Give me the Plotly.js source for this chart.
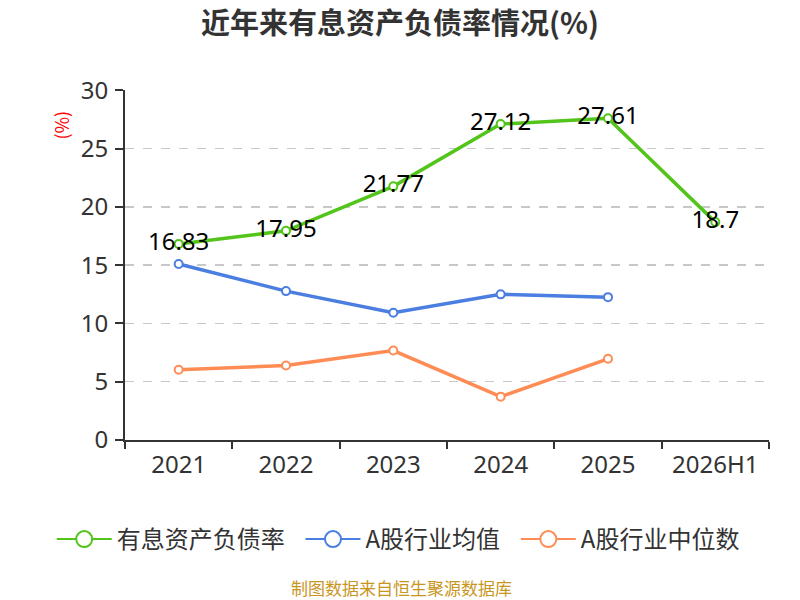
<!DOCTYPE html>
<html>
<head>
<meta charset="utf-8">
<script src="https://cdn.plot.ly/plotly-3.0.1.min.js"></script>
<style>
  body { margin: 0; background: #fff; }
  #chart { width: 800px; height: 600px; }
</style>
</head>
<body>
<div id="chart"></div>
<script>
var years = ["2021", "2022", "2023", "2024", "2025", "2026H1"];
var ratio = [16.83, 17.95, 21.77, 27.12, 27.61, 18.7];
var industryMean = [15.11, 12.78, 10.92, 12.5, 12.26, null];
var industryMedian = [6.03, 6.39, 7.68, 3.72, 6.97, null];
var seriesNames = ["有息资产负债率", "A股行业均值", "A股行业中位数"];
var colors = ["#52c41a", "#4a7ee0", "#ff8c55"];

var cjk = "'Noto Sans CJK SC', 'Noto Sans', sans-serif";
var num = "'Noto Sans', 'Open Sans', sans-serif";

function lineTrace(vals, i, withText) {
    var t = {
        x: years,
        y: vals,
        type: "scatter",
        mode: withText ? "lines+markers+text" : "lines+markers",
        line: {color: colors[i], width: 3.5},
        marker: {size: 8, color: "#fff", line: {color: colors[i], width: 2}},
        showlegend: false,
        hoverinfo: "x+y",
        cliponaxis: false
    };
    if (withText) {
        t.text = vals.map(function(v){ return String(v); });
        t.textposition = "middle center";
        t.textfont = {family: num, size: 24, color: "#000"};
    }
    return t;
}

// legend-only entries so the symbols come out bigger
// (the trailing nbsp's just widen the gap between entries)
function legendTrace(i) {
    return {
        x: [null], y: [null],
        type: "scatter",
        mode: "lines+markers",
        name: seriesNames[i] + "&nbsp;&nbsp;",
        line: {color: colors[i], width: 2},
        marker: {size: 16, color: "#fff", line: {color: colors[i], width: 2}}
    };
}

var data = [
    lineTrace(industryMedian, 2, false),
    lineTrace(industryMean, 1, false),
    lineTrace(ratio, 0, true),
    legendTrace(0), legendTrace(1), legendTrace(2)
];

var layout = {
    width: 800, height: 600,
    margin: {l: 125, r: 31, t: 90, b: 160},
    paper_bgcolor: "#fff",
    plot_bgcolor: "#fff",
    title: {
        text: "<b>近年来有息资产负债率情况(%)</b>",
        font: {family: cjk, size: 29, color: "#333"},
        x: 0.5, xanchor: "center", y: 0.96, yanchor: "middle"
    },
    xaxis: {
        type: "category",
        range: [-0.5, 5.5],
        tickson: "boundaries",
        ticks: "outside", ticklen: 7, tickwidth: 2, tickcolor: "#333",
        ticklabelstandoff: 2,
        showline: true, linecolor: "#333", linewidth: 2,
        showgrid: false,
        tickfont: {family: num, size: 24, color: "#333"},
        fixedrange: true
    },
    yaxis: {
        range: [0, 30.04],
        tickvals: [0, 5, 10, 15, 20, 25, 30],
        ticks: "outside", ticklen: 8, tickwidth: 2, tickcolor: "#333",
        ticklabelstandoff: 2,
        showline: true, linecolor: "#333", linewidth: 2,
        showgrid: true, gridcolor: "#c8c8c8", griddash: "dash", gridwidth: 1.5,
        zeroline: false,
        tickfont: {family: num, size: 24, color: "#333"},
        fixedrange: true
    },
    legend: {
        orientation: "h",
        x: -0.1138, xanchor: "left",
        y: -0.22, yanchor: "top",
        font: {family: cjk, size: 24, color: "#333"},
        itemwidth: 55
    },
    annotations: [
        {
            text: "(%)", xref: "paper", yref: "paper",
            x: -0.1, y: 0.9, xanchor: "center", yanchor: "middle",
            textangle: -90, showarrow: false,
            font: {family: cjk, size: 18, color: "#ff0000"}
        },
        {
            text: "制图数据来自恒生聚源数据库", xref: "paper", yref: "paper",
            x: 0.4286, y: -0.42, xanchor: "center", yanchor: "middle",
            showarrow: false,
            font: {family: cjk, size: 17, color: "#c8961e"}
        }
    ]
};

Plotly.newPlot("chart", data, layout, {displayModeBar: false, staticPlot: true});
</script>
</body>
</html>
